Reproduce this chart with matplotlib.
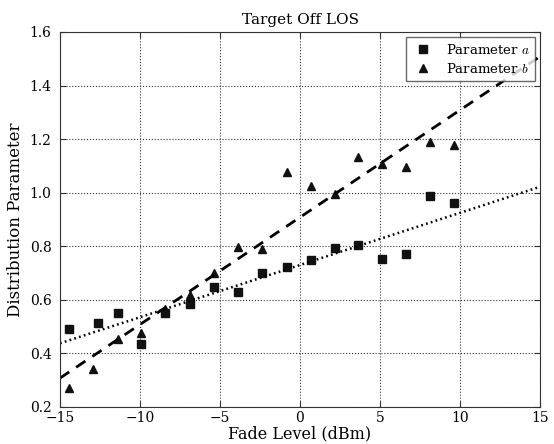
import numpy as np
import matplotlib
matplotlib.use("Agg")
import matplotlib.pyplot as plt

x_a = [-14.44, -12.63, -11.38, -9.95, -8.45, -6.89, -5.39, -3.90, -2.40, -0.84, 0.66, 2.16, 3.65, 5.15, 6.65, 8.14, 9.64]
y_a = [0.490, 0.513, 0.550, 0.435, 0.550, 0.583, 0.647, 0.628, 0.699, 0.721, 0.747, 0.792, 0.803, 0.751, 0.773, 0.986, 0.960]
x_b = [-14.44, -12.94, -11.38, -9.95, -8.45, -6.89, -5.39, -3.90, -2.40, -0.84, 0.66, 2.16, 3.65, 5.15, 6.65, 8.14, 9.64]
y_b = [0.271, 0.341, 0.453, 0.475, 0.565, 0.617, 0.699, 0.799, 0.788, 1.079, 1.026, 0.997, 1.134, 1.108, 1.097, 1.190, 1.179]

plt.rcParams['font.family'] = ['DejaVu Serif']
plt.rcParams['mathtext.fontset'] = 'cm'

fig = plt.figure(figsize=(5.54, 4.44), dpi=100)
ax = fig.add_axes([60/554, 1-407/444, 480/554, 375/444])

xx = np.array([-15, 15])
pa = np.polyfit(x_a, y_a, 1)
pb = np.polyfit(x_b, y_b, 1)

ax.plot(x_a, y_a, 's', color='#111111', ms=6, label='Parameter $a$')
ax.plot(x_b, y_b, '^', color='#111111', ms=6, label='Parameter $b$')
ax.plot(xx, np.polyval(pb, xx), '--', color='black', lw=2, dashes=(4, 3))
ax.plot(xx, np.polyval(pa, xx), ':', color='black', lw=1.8, dashes=(0.7, 1.3))

ax.set_xlim(-15, 15)
ax.set_ylim(0.2, 1.6)
ax.set_xticks([-15, -10, -5, 0, 5, 10, 15])
ax.set_yticks([0.2, 0.4, 0.6, 0.8, 1.0, 1.2, 1.4, 1.6])
ax.yaxis.set_major_formatter(matplotlib.ticker.FormatStrFormatter('%.1f'))
ax.grid(True, linestyle=':', color='#333333', lw=0.8)
for s in ax.spines.values():
    s.set_color('#333333')
ax.tick_params(direction='in', top=True, right=True, labelsize=10, length=4, color='#333333')
ax.tick_params(axis='x', pad=3)
ax.tick_params(axis='y', pad=6)
ax.set_title('Target Off LOS', fontsize=11)
ax.set_xlabel('Fade Level (dBm)', fontsize=11.5, labelpad=0)
ax.set_ylabel('Distribution Parameter', fontsize=12, labelpad=4)
leg = ax.legend(loc='upper right', fontsize=9.5, fancybox=False, edgecolor='#444444', handlelength=1.8,
                borderaxespad=0.4, borderpad=0.4, labelspacing=0.4)
leg.get_frame().set_linewidth(1.0)

fig.savefig('out.png', dpi=100)
